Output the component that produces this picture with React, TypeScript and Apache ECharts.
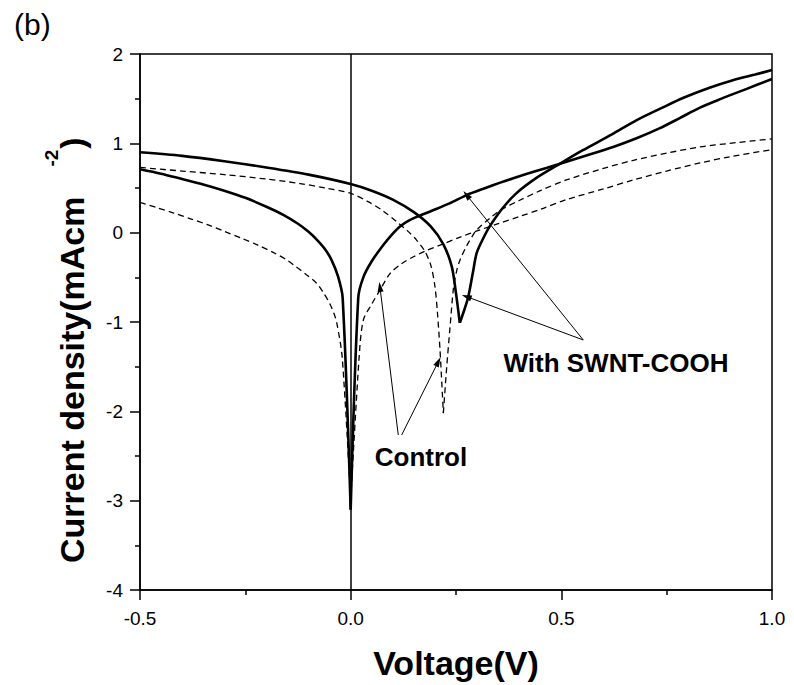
import React, { useEffect, useRef } from 'react';
import * as echarts from 'echarts';

// Voltage (V) vs current density (mA cm^-2)
const swntCurveA: [number, number][] = [
  [-0.5, 0.9], [-0.4, 0.86], [-0.3, 0.8], [-0.2, 0.73], [-0.1, 0.65], [0, 0.545],
  [0.05, 0.47], [0.1, 0.37], [0.15, 0.23], [0.19, 0.07], [0.22, -0.13], [0.24, -0.38],
  [0.25, -0.68], [0.259, -1.01], [0.27, -0.86], [0.279, -0.72], [0.29, -0.45],
  [0.299, -0.23], [0.315, -0.06], [0.33, 0.07], [0.36, 0.27], [0.393, 0.44],
  [0.44, 0.61], [0.489, 0.75], [0.55, 0.92], [0.62, 1.1], [0.679, 1.26],
  [0.74, 1.4], [0.79, 1.51], [0.85, 1.62], [0.909, 1.71], [0.96, 1.77], [1.0, 1.82],
];

const swntCurveB: [number, number][] = [
  [-0.5, 0.71], [-0.45, 0.66], [-0.4, 0.6], [-0.35, 0.54], [-0.3, 0.47], [-0.25, 0.39],
  [-0.2, 0.29], [-0.16, 0.2], [-0.125, 0.1], [-0.1, 0.01], [-0.08, -0.08], [-0.06, -0.19],
  [-0.045, -0.31], [-0.03, -0.49], [-0.019, -0.73], [0, -3.1], [0.018, -0.73],
  [0.03, -0.5], [0.05, -0.32], [0.077, -0.14], [0.1, -0.01], [0.117, 0.07], [0.14, 0.14],
  [0.164, 0.19], [0.19, 0.24], [0.236, 0.33], [0.275, 0.42], [0.32, 0.5], [0.355, 0.56],
  [0.386, 0.61], [0.44, 0.69], [0.489, 0.76], [0.55, 0.85], [0.623, 0.96], [0.68, 1.06],
  [0.734, 1.17], [0.78, 1.28], [0.829, 1.4], [0.88, 1.5], [0.94, 1.61], [1.0, 1.72],
];

const controlCurveA: [number, number][] = [
  [-0.5, 0.34], [-0.46, 0.28], [-0.42, 0.22], [-0.38, 0.155], [-0.34, 0.09], [-0.3, 0.015],
  [-0.26, -0.06], [-0.22, -0.14], [-0.18, -0.23], [-0.15, -0.31], [-0.13, -0.38],
  [-0.105, -0.47], [-0.08, -0.57], [-0.065, -0.67], [-0.05, -0.79], [-0.04, -0.9],
  [-0.033, -1.01], [-0.02, -1.4], [0, -3.0], [0.02, -1.4], [0.03, -0.98], [0.05, -0.8],
  [0.07, -0.64], [0.093, -0.46], [0.12, -0.35], [0.149, -0.27], [0.18, -0.2],
  [0.212, -0.14], [0.26, -0.05], [0.3, 0.02], [0.35, 0.1], [0.4, 0.18], [0.45, 0.26],
  [0.512, 0.37], [0.6, 0.49], [0.671, 0.59], [0.75, 0.69], [0.829, 0.78], [0.9, 0.85],
  [1.0, 0.93],
];

const controlCurveB: [number, number][] = [
  [-0.5, 0.73], [-0.4, 0.69], [-0.3, 0.65], [-0.2, 0.6], [-0.12, 0.55], [-0.06, 0.5],
  [0, 0.44], [0.04, 0.35], [0.075, 0.25], [0.11, 0.12], [0.135, 0.02], [0.156, -0.08],
  [0.175, -0.2], [0.19, -0.36], [0.2, -0.6], [0.206, -0.9], [0.212, -1.31], [0.22, -2.02],
  [0.228, -1.5], [0.236, -1.05], [0.244, -0.62], [0.252, -0.42], [0.26, -0.3],
  [0.275, -0.15], [0.29, -0.03], [0.299, 0.03], [0.33, 0.16], [0.355, 0.25], [0.4, 0.36],
  [0.45, 0.47], [0.512, 0.59], [0.6, 0.72], [0.671, 0.81], [0.75, 0.89], [0.829, 0.96],
  [0.9, 1.0], [1.0, 1.05],
];

// annotation arrows: [from, to] in data coordinates
const controlArrows: [[number, number], [number, number]][] = [
  [[0.113, -2.265], [0.0695, -0.608]],
  [[0.121, -2.265], [0.208, -1.444]],
];
const swntArrows: [[number, number], [number, number]][] = [
  [[0.552, -1.201], [0.275, 0.422]],
  [[0.552, -1.201], [0.275, -0.716]],
];

const xMin = -0.5;
const xMax = 1.0;
const xStep = 0.5;
const yMin = -4;
const yMax = 2;
const yStep = 1;

const FONT = '"Liberation Sans", Arial, Helvetica, sans-serif';

// split a curve at its sharp minimum so each branch can be smoothed separately
function splitAtTip(data: [number, number][]): [number, number][][] {
  let idx = 0;
  data.forEach((p, i) => {
    if (p[1] < data[idx][1]) idx = i;
  });
  return [data.slice(0, idx + 1), data.slice(idx)];
}

export default function App() {
  const ref = useRef<HTMLDivElement>(null);
  useEffect(() => {
    document.body.style.margin = '0';
    const chart = echarts.init(ref.current!, null, { renderer: 'svg' });
    const solid = { color: '#000', width: 2.6 };
    const dashed = { color: '#000', width: 1.3, type: [6, 4] as number[] };
    const arrowLines = [...controlArrows, ...swntArrows].map(([a, b]) => [
      { coord: a },
      { coord: b },
    ]);
    const curveSeries: any[] = [];
    const addCurve = (data: [number, number][], style: any) => {
      splitAtTip(data).forEach((part) => {
        curveSeries.push({
          type: 'line',
          data: part,
          showSymbol: false,
          symbol: 'none',
          smooth: 0.3,
          lineStyle: style,
          silent: true,
        });
      });
    };
    addCurve(swntCurveA, solid);
    addCurve(swntCurveB, solid);
    addCurve(controlCurveA, dashed);
    addCurve(controlCurveB, dashed);

    chart.setOption({
      animation: false,
      backgroundColor: '#fff',
      textStyle: { fontFamily: FONT },
      grid: {
        left: 140,
        right: 22,
        top: 54,
        bottom: 95,
        show: true,
        borderColor: '#000',
        borderWidth: 1.5,
        backgroundColor: 'transparent',
      },
      xAxis: {
        type: 'value',
        min: xMin,
        max: xMax,
        interval: xStep,
        axisLine: { show: true, onZero: false, lineStyle: { color: '#000', width: 1.5 } },
        axisTick: { show: true, inside: false, length: 10, lineStyle: { color: '#000', width: 1.5 } },
        minorTick: { show: true, splitNumber: 2, length: 5, lineStyle: { color: '#000', width: 1.5 } },
        splitLine: { show: false },
        axisLabel: {
          color: '#000',
          fontSize: 19,
          fontFamily: FONT,
          margin: 28,
          verticalAlign: 'middle',
          formatter: (v: number) => v.toFixed(1),
        },
      },
      yAxis: {
        type: 'value',
        min: yMin,
        max: yMax,
        interval: yStep,
        axisLine: { show: true, onZero: false, lineStyle: { color: '#000', width: 1.5 } },
        axisTick: { show: true, inside: false, length: 10, lineStyle: { color: '#000', width: 1.5 } },
        minorTick: { show: true, splitNumber: 2, length: 5, lineStyle: { color: '#000', width: 1.5 } },
        splitLine: { show: false },
        axisLabel: { color: '#000', fontSize: 19, fontFamily: FONT, margin: 17 },
      },
      series: [
        {
          type: 'line',
          data: [],
          silent: true,
          markLine: {
            silent: true,
            symbol: ['none', 'none'],
            label: { show: false },
            lineStyle: { color: '#000', width: 1.5, type: 'solid' },
            data: [{ xAxis: 0 }],
          },
        },
        ...curveSeries,
        {
          type: 'line',
          data: [],
          silent: true,
          markLine: {
            silent: true,
            symbol: ['none', 'triangle'],
            symbolSize: [6, 10],
            label: { show: false },
            lineStyle: { color: '#000', width: 1, type: 'solid' },
            itemStyle: { color: '#000' },
            data: arrowLines,
          },
        },
      ],
      graphic: [
        {
          type: 'text',
          x: 14,
          y: 24,
          style: { text: '(b)', fontSize: 30, fontFamily: FONT, fill: '#000', align: 'left', verticalAlign: 'middle' },
        },
        {
          type: 'text',
          x: 72,
          y: 563,
          rotation: Math.PI / 2,
          style: { text: 'Current density(mAcm', fontSize: 34, fontWeight: 'bold', fontFamily: FONT, fill: '#000', align: 'left', verticalAlign: 'middle' },
        },
        {
          type: 'text',
          x: 51.5,
          y: 158,
          rotation: Math.PI / 2,
          style: { text: '-2', fontSize: 19, fontWeight: 'bold', fontFamily: FONT, fill: '#000', align: 'center', verticalAlign: 'middle' },
        },
        {
          type: 'text',
          x: 72,
          y: 143,
          rotation: Math.PI / 2,
          style: { text: ')', fontSize: 34, fontWeight: 'bold', fontFamily: FONT, fill: '#000', align: 'center', verticalAlign: 'middle' },
        },
        {
          type: 'text',
          x: 456,
          y: 663,
          style: { text: 'Voltage(V)', fontSize: 34, fontWeight: 'bold', fontFamily: FONT, fill: '#000', align: 'center', verticalAlign: 'middle' },
        },
        {
          type: 'text',
          x: 421,
          y: 457,
          style: { text: 'Control', fontSize: 26, fontWeight: 'bold', fontFamily: FONT, fill: '#000', align: 'center', verticalAlign: 'middle' },
        },
        {
          type: 'text',
          x: 616,
          y: 363,
          style: { text: 'With SWNT-COOH', fontSize: 26, fontWeight: 'bold', fontFamily: FONT, fill: '#000', align: 'center', verticalAlign: 'middle' },
        },
      ],
    });
    return () => chart.dispose();
  }, []);
  return <div ref={ref} style={{ width: 794, height: 685 }} />;
}
